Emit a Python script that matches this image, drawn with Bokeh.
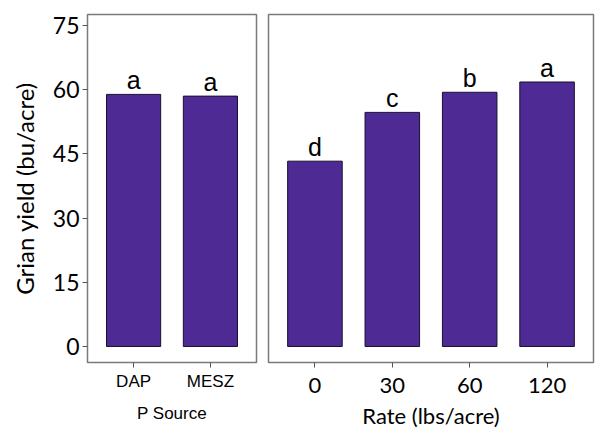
from bokeh.plotting import figure
from bokeh.layouts import row
from bokeh.models import ColumnDataSource, Range1d, FixedTicker
from bokeh.embed import file_html
from bokeh.resources import INLINE
from bokeh.core.properties import value

# Data
source_cats = ["DAP", "MESZ"]
source_vals = [58.9, 58.5]
source_letters = ["a", "a"]

rate_cats = ["0", "30", "60", "120"]
rate_vals = [43.3, 54.7, 59.4, 61.8]
rate_letters = ["d", "c", "b", "a"]

y_ticks = [0, 15, 30, 45, 60, 75]

BAR = "#4e2a94"
BORDER = "#7a7a7a"
TICKC = "#555555"


def make_panel(cats, vals, letters, width, xlabel, tick_font, tick_size,
               title_font, title_size, left_axis, mbl, mbr, lab_standoff, title_standoff):
    xs = list(range(len(cats)))
    src = ColumnDataSource(dict(x=xs, top=vals, lab=letters))
    p = figure(width=width, height=431, output_backend="svg", toolbar_location=None,
               x_range=Range1d(-0.6, len(cats) - 0.4), y_range=Range1d(-3.74, 77.57),
               min_border_left=mbl, min_border_right=mbr, min_border_top=14,
               min_border_bottom=69)
    p.vbar(x="x", top="top", bottom=0, width=0.705, source=src,
           fill_color=BAR, line_color="#1a1030", line_width=1)
    p.text(x="x", y="top", text="lab", source=src, text_align="center",
           text_baseline="alphabetic", y_offset=-14,
           text_font=value("Liberation Sans"), text_font_size="25px",
           text_color="black")
    p.xgrid.visible = False
    p.ygrid.visible = False
    p.outline_line_color = BORDER
    p.outline_line_width = 1.5
    p.background_fill_color = "white"
    p.border_fill_color = "white"

    xa = p.xaxis[0]
    xa.ticker = FixedTicker(ticks=xs)
    xa.major_label_overrides = {i: c for i, c in enumerate(cats)}
    xa.axis_line_color = None
    xa.major_tick_in = 0
    xa.major_tick_out = 5
    xa.major_tick_line_color = TICKC
    xa.minor_tick_line_color = None
    xa.major_label_text_font = tick_font
    xa.major_label_text_font_size = tick_size
    xa.major_label_text_color = "black"
    xa.major_label_standoff = lab_standoff
    xa.axis_label = xlabel
    xa.axis_label_text_font = title_font
    xa.axis_label_text_font_size = title_size
    xa.axis_label_text_font_style = "normal"
    xa.axis_label_text_color = "black"
    xa.axis_label_standoff = title_standoff

    ya = p.yaxis[0]
    if left_axis:
        ya.ticker = FixedTicker(ticks=y_ticks)
        ya.axis_line_color = None
        ya.major_tick_in = 0
        ya.major_tick_out = 5
        ya.major_tick_line_color = TICKC
        ya.minor_tick_line_color = None
        ya.major_label_text_font = "Lato"
        ya.major_label_text_font_size = "23px"
        ya.major_label_text_color = "black"
        ya.major_label_standoff = 3
        ya.axis_label = "Grian yield (bu/acre)"
        ya.axis_label_text_font = "Lato"
        ya.axis_label_text_font_size = "24px"
        ya.axis_label_text_font_style = "normal"
        ya.axis_label_text_color = "black"
        ya.axis_label_standoff = 11
    else:
        ya.visible = False
    return p


left = make_panel(source_cats, source_vals, source_letters, 262, "P Source",
                  "Liberation Sans", "17px", "Liberation Sans", "17px", True, 87, 6, 4, 10)
right = make_panel(rate_cats, rate_vals, rate_letters, 337, "Rate (lbs/acre)",
                   "Lato", "22px", "Lato", "22px", False, 6, 6, 10, 6)

layout = row(left, right)
open("out.html", "w").write(file_html(layout, INLINE))
